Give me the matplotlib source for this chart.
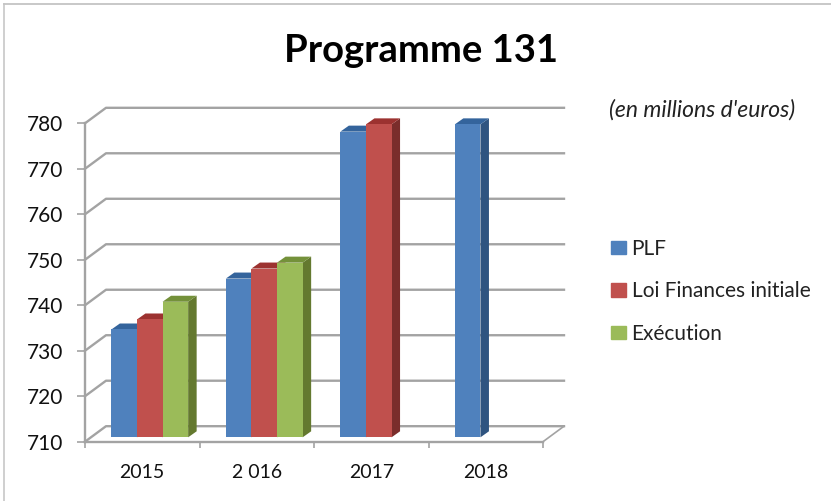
import matplotlib
matplotlib.use('Agg')
import matplotlib.pyplot as plt
from matplotlib.patches import Polygon, Patch

# Values
years = ['2015', '2 016', '2017', '2018']
plf = [733.7, 744.9, 777.2, 778.8]
loi_finances = [735.9, 747.1, 778.8, None]
execution = [739.8, 748.4, None, None]
y_ticks = [710, 720, 730, 740, 750, 760, 770, 780]
series_names = ['PLF', 'Loi Finances initiale', 'Exécution']

W, H = 831, 501
plt.rcParams['font.family'] = ['Lato', 'DejaVu Sans']

fig = plt.figure(figsize=(W / 100, H / 100), dpi=100)
ax = fig.add_axes([85 / W, (H - 441.7) / H, 458 / W, 318.4 / H])
ax.set_xlim(0, 4)
ax.set_ylim(710, 780)
ax.patch.set_visible(False)

# one pixel in data units, for the fake 3D depth
px_x = 4 / 458
px_y = 70 / 318.4
wall_dx, wall_dy = 21 * px_x, 15.5 * px_y
bar_dx, bar_dy = 8.5 * px_x, 6 * px_y
shift_x, shift_y = 7.5 * px_x, 4.4 * px_y
bar_w = 25.6 * px_x

grid_col = '#a3a3a3'
grid_lw = 1.7

# back wall and left wall
for v in y_ticks:
    ax.plot([0, wall_dx, 4 + wall_dx], [v, v + wall_dy, v + wall_dy],
            color=grid_col, lw=grid_lw, clip_on=False, zorder=1, solid_joinstyle='round')
# floor edge on the right
ax.plot([4, 4 + wall_dx], [710, 710 + wall_dy], color=grid_col, lw=1.2, clip_on=False, zorder=1)

colors = ['#4f81bd', '#c0504d', '#9bbb59']
sides = ['#2f5480', '#7a2d2b', '#64792f']
tops = ['#34649c', '#9c3230', '#74913a']
all_series = [plf, loi_finances, execution]

z = 3
for i in range(len(years)):
    for j, vals in enumerate(all_series):
        v = vals[i]
        if v is None:
            continue
        left = i + 0.5 + (j - 1.5) * bar_w + shift_x
        right = left + bar_w
        base = 710 + shift_y
        top = v + shift_y
        ax.add_patch(Polygon([(right, base), (right, top), (right + bar_dx, top + bar_dy), (right + bar_dx, base + bar_dy)],
                             closed=True, fc=sides[j], ec='none', clip_on=False, zorder=z))
        ax.add_patch(Polygon([(left, top), (left + bar_dx, top + bar_dy), (right + bar_dx, top + bar_dy), (right, top)],
                             closed=True, fc=tops[j], ec='none', clip_on=False, zorder=z))
        ax.bar(left, v - 710, bar_w, bottom=base, align='edge', color=colors[j], clip_on=False, zorder=z + 0.5)
        z += 1

# axes
for s in ['top', 'right']:
    ax.spines[s].set_visible(False)
for s in ['left', 'bottom']:
    ax.spines[s].set_color(grid_col)
    ax.spines[s].set_linewidth(grid_lw)
ax.set_yticks(y_ticks)
ax.set_xticks(range(5))
ax.set_xticklabels([])
ax.set_xticks([i + 0.5 for i in range(4)], minor=True)
ax.set_xticklabels(years, minor=True, fontsize=14, color='#111111')
ax.tick_params(axis='x', which='major', length=4, width=1.2, color=grid_col)
ax.tick_params(axis='x', which='minor', length=0, pad=16)
ax.tick_params(axis='y', length=6, width=1.2, color=grid_col, labelsize=15, labelcolor='#111111', pad=9.5)

handles = [Patch(color=c, label=n) for c, n in zip(colors, series_names)]
fig.legend(handles=handles, loc='upper left', bbox_to_anchor=(592 / W, (H - 220) / H), frameon=False,
           fontsize=15, labelspacing=1.08, handlelength=0.72, handleheight=0.6, handletextpad=0.28,
           labelcolor='#222222')

fig.text(421 / W, (H - 62) / H, 'Programme 131', ha='center', va='baseline', fontsize=27.5, fontweight='bold', color='black')
fig.text(702 / W, (H - 110) / H, "(en millions d'euros)", ha='center', va='center', fontsize=16.5, style='italic', color='#222222')

# picture frame
fig.add_artist(plt.Line2D([4 / W, 4 / W], [0, (H - 4) / H], color='#cccccc', lw=1.3))
fig.add_artist(plt.Line2D([4 / W, 1], [(H - 4) / H, (H - 4) / H], color='#c4c4c4', lw=1.3))

fig.savefig('out.png', dpi=100)
